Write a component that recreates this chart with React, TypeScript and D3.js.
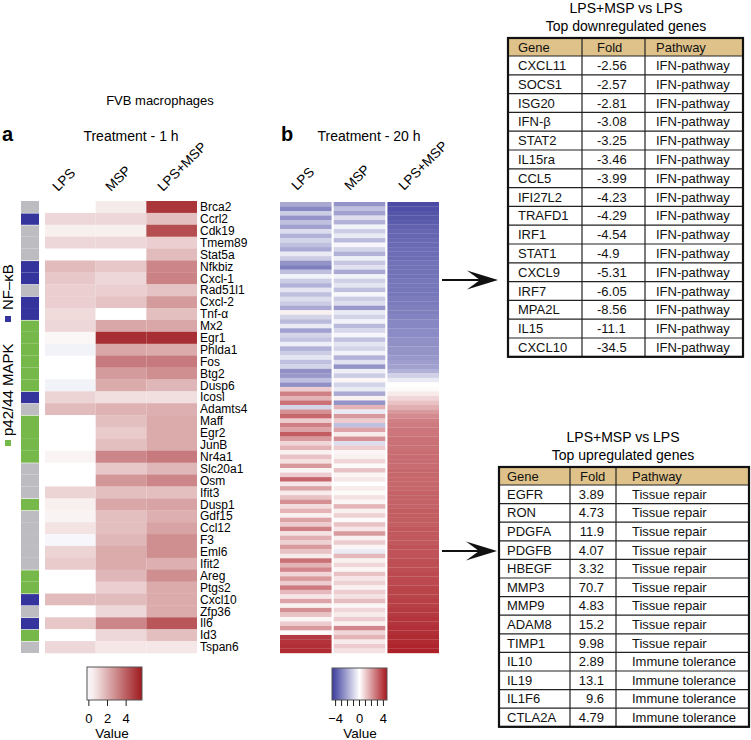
import React from 'react';
import * as d3 from 'd3';

// ---- panel a : treatment 1 h ----
const genesA = ['Brca2', 'Ccrl2', 'Cdk19', 'Tmem89', 'Stat5a', 'Nfkbiz', 'Cxcl-1', 'Rad51l1', 'Cxcl-2', 'Tnf-α',
  'Mx2', 'Egr1', 'Phlda1', 'Fos', 'Btg2', 'Dusp6', 'Icosl', 'Adamts4', 'Maff', 'Egr2', 'JunB', 'Nr4a1',
  'Slc20a1', 'Osm', 'Ifit3', 'Dusp1', 'Gdf15', 'Ccl12', 'F3', 'Eml6', 'Ifit2', 'Areg', 'Ptgs2', 'Cxcl10',
  'Zfp36', 'Il6', 'Id3', 'Tspan6'];
// o = other, n = NF-kB, m = p42/44 MAPK
const pathwayA = ['o', 'n', 'o', 'o', 'o', 'n', 'n', 'o', 'n', 'n', 'm', 'm', 'm', 'm', 'm', 'm', 'n', 'o', 'm', 'm',
  'm', 'm', 'o', 'o', 'o', 'm', 'o', 'o', 'o', 'o', 'o', 'm', 'm', 'n', 'o', 'n', 'm', 'o'];
const lpsA = [0, 1.0, 0.4, 1.0, 0, 1.7, 1.4, 1.2, 1.2, 0.9, 1.0, 0.2, -0.3, 0, 0, -0.3, 1.1, 1.7, 0, 0, 0, 0.3,
  0, 0, 1.1, 0.4, 0.3, 0.7, -0.2, 1.1, 1.3, 0, 0, 1.7, 0, 1.4, 0, 1.0];
const mspA = [0.5, 1.0, 0.4, 1.0, 0, 1.4, 1.0, 1.2, 1.5, 0, 2.2, 5.2, 2.2, 3.3, 2.5, 2.1, 0.8, 1.9, 1.6, 1.3, 1.6, 3.0,
  1.4, 2.6, 1.6, 2.2, 1.6, 1.6, 1.8, 2.1, 2.1, 1.8, 1.2, 1.7, 1.0, 3.0, 1.0, 0.6];
const comboA = [5.0, 1.6, 4.4, 1.2, 1.7, 3.0, 3.1, 1.5, 2.5, 1.6, 2.2, 5.2, 2.1, 3.3, 2.8, 1.8, 0.8, 2.0, 2.1, 2.1, 2.1, 3.3,
  1.8, 3.0, 1.6, 2.3, 2.0, 2.3, 2.8, 2.8, 2.0, 2.8, 2.1, 2.1, 2.1, 4.2, 1.6, 0.6];
const conditions = ['LPS', 'MSP', 'LPS+MSP'];

// ---- panel b : treatment 20 h (rows sorted by LPS+MSP) ----
const lpsB = [
  -2.0, -2.8, -1.2, -2.5, -1.5, -2.2, -0.8, -1.8, -1.0, -1.5,
  -2.0, -0.5, -1.2, -2.5, -3.0, -1.5, -0.3, -1.2, -1.8, -0.6,
  -1.5, -0.8, -1.2, -2.0, 0.3, -1.0, -1.6, -0.5, -2.2, -1.0,
  -1.4, -0.4, -1.8, -1.2, -0.6, -1.5, -1.0, -2.6, -2.4, -1.5,
  -2.6, 1.0, 2.5, 1.5, 2.8, -1.0, 2.2, 3.0, 1.0, 2.5,
  1.8, 3.2, 2.0, 0.8, 1.5, 0.3, 1.2, 0.6, 2.0, 0.2,
  1.0, 3.0, 0.5, 1.8, 0.4, 1.2, 2.2, 0.7, 1.5, 0.3,
  1.8, 1.0, 2.5, 0.6, 1.6, 0.9, 2.0, 1.2, 0.4, 2.8,
  1.5, 2.4, 0.8, 2.0, 1.0, 2.6, 1.4, 0.5, 1.8, 0.3,
  2.2, 1.2, 0.2, 1.0, 2.0, 0.1, 3.9, 4.0, 4.1, 4.2];
const mspB = [
  -2.5, -1.5, -2.2, -0.8, -1.8, -0.3, -1.2, -0.5, -1.6, -0.2,
  -1.0, -1.8, -0.4, -1.3, -0.7, -2.0, -0.3, -1.1, -0.6, -1.5,
  -0.2, -1.2, -0.8, -2.4, -0.5, -1.0, -0.3, -1.6, -0.9, -0.2,
  -1.4, -0.6, -1.0, -0.3, -1.8, -0.7, -2.5, -0.4, -1.2, 0.2,
  -1.0, -0.5, -2.0, 0.3, -2.5, 1.5, -0.5, 2.0, 1.0, -1.5,
  1.8, 0.4, 2.2, -0.8, 1.0, 0.2, 0.3, 0.8, 0.1, 1.2,
  0.2, 0.5, 0.0, 0.4, 0.1, 0.6, 0.2, 1.5, 0.3, 0.9,
  0.1, 1.2, 0.5, 2.0, 0.3, 1.0, 0.2, -0.5, 1.4, 0.3,
  0.8, 0.2, 1.2, 0.5, 0.9, 0.3, 1.0, 0.6, 1.3, 0.2,
  0.8, 0.4, 1.0, 0.3, 2.4, 0.8, 1.5, 0.4, 1.0, 0.6];
const comboB = [
  -4.2, -4.1, -4.0, -3.9, -3.8, -3.7, -3.6, -3.6, -3.5, -3.5,
  -3.4, -3.4, -3.4, -3.3, -3.3, -3.3, -3.3, -3.2, -3.2, -3.2,
  -3.2, -3.1, -3.1, -3.0, -3.0, -2.9, -2.8, -2.8, -2.7, -2.7,
  -2.6, -2.6, -2.5, -2.5, -2.4, -2.3, -2.2, -1.8, -1.1, -0.5,
  0, 0.1, 0.4, 0.8, 1.2, 1.6, 2.0, 2.3, 2.5, 2.6,
  2.7, 2.7, 2.8, 2.8, 2.8, 2.9, 2.9, 2.9, 2.9, 3.0,
  3.0, 3.0, 3.0, 3.0, 3.1, 3.1, 3.1, 3.1, 3.2, 3.2,
  3.2, 3.2, 3.3, 3.3, 3.3, 3.3, 3.4, 3.4, 3.4, 3.5,
  3.5, 3.5, 3.6, 3.6, 3.6, 3.7, 3.7, 3.7, 3.8, 3.8,
  3.9, 3.9, 4.0, 4.0, 4.1, 4.1, 4.2, 4.2, 4.3, 4.4];

// ---- tables ----
const downGenes = ['CXCL11', 'SOCS1', 'ISG20', 'IFN-β', 'STAT2', 'IL15ra', 'CCL5', 'IFI27L2', 'TRAFD1', 'IRF1',
  'STAT1', 'CXCL9', 'IRF7', 'MPA2L', 'IL15', 'CXCL10'];
const downFold = ['-2.56', '-2.57', '-2.81', '-3.08', '-3.25', '-3.46', '-3.99', '-4.23', '-4.29', '-4.54',
  '-4.9', '-5.31', '-6.05', '-8.56', '-11.1', '-34.5'];
const downPathway = downGenes.map(() => 'IFN-pathway');
const upGenes = ['EGFR', 'RON', 'PDGFA', 'PDGFB', 'HBEGF', 'MMP3', 'MMP9', 'ADAM8', 'TIMP1', 'IL10', 'IL19', 'IL1F6', 'CTLA2A'];
const upFold = ['3.89', '4.73', '11.9', '4.07', '3.32', '70.7', '4.83', '15.2', '9.98', '2.89', '13.1', '9.6', '4.79'];
const upPathway = ['Tissue repair', 'Tissue repair', 'Tissue repair', 'Tissue repair', 'Tissue repair', 'Tissue repair',
  'Tissue repair', 'Tissue repair', 'Tissue repair', 'Immune tolerance', 'Immune tolerance', 'Immune tolerance', 'Immune tolerance'];

const ticksA = [0, 2, 4];
const ticksB = [-4, -3, -2, -1, 0, 1, 2, 3, 4];
const tickLabelsB = [-4, 0, 4];

const FONT = 'Liberation Sans, Arial, Helvetica, sans-serif';
const BLUE = '#3a3a9c';
const RED_A = '#9e1a1e';
const RED_B = '#a8161e';
const sideColor = { o: '#bdbdc1', n: '#34349c', m: '#77b84a' };

const colorA = d3.scaleLinear<string>().domain([-4.6, 0, 5.7]).range([BLUE, '#ffffff', RED_A]).clamp(true);
const colorB = d3.scaleLinear<string>().domain([-4.6, 0, 4.6]).range([BLUE, '#ffffff', RED_B]).clamp(true);

function Table({ x0, x1, top, headH, rowH, cols, genes, fold, path, foldAnchor, foldX, geneX, pathX }) {
  const rows = genes.length;
  const y = (i) => top + headH + i * rowH;
  const bottom = y(rows);
  return (
    <g fontFamily={FONT} fontSize={13} fill="#111">
      <rect x={x0} y={top} width={x1 - x0} height={headH} fill="#dfc28a" />
      {d3.range(rows + 1).map((i) => (
        <line key={'h' + i} x1={x0} x2={x1} y1={y(i)} y2={y(i)} stroke="#222" strokeWidth={1.2} />
      ))}
      {cols.map((c) => (
        <line key={'v' + c} x1={c} x2={c} y1={top} y2={bottom} stroke="#222" strokeWidth={1.2} />
      ))}
      <rect x={x0} y={top} width={x1 - x0} height={bottom - top} fill="none" stroke="#111" strokeWidth={2.2} />
      <text x={geneX} y={top + headH / 2 + 4.5}>Gene</text>
      <text x={foldX.head} y={top + headH / 2 + 4.5}>Fold</text>
      <text x={pathX} y={top + headH / 2 + 4.5}>Pathway</text>
      {genes.map((g, i) => (
        <g key={g}>
          <text x={geneX} y={y(i) + rowH / 2 + 4.5}>{g}</text>
          <text x={foldX.val} y={y(i) + rowH / 2 + 4.5} textAnchor={foldAnchor}>{fold[i]}</text>
          <text x={pathX} y={y(i) + rowH / 2 + 4.5}>{path[i]}</text>
        </g>
      ))}
    </g>
  );
}

function Arrow({ x0, x1, y }) {
  return (
    <g>
      <line x1={x0} x2={x1 - 16} y1={y} y2={y} stroke="#111" strokeWidth={2} />
      <path d={`M${x1},${y} L${x1 - 31},${y - 9.5} L${x1 - 18},${y} L${x1 - 31},${y + 9.5} Z`} fill="#111" />
    </g>
  );
}

export default function App() {
  // panel a geometry
  const topA = 201, botA = 653;
  const yA = d3.scaleBand<number>().domain(d3.range(genesA.length)).range([topA, botA]);
  const xA = d3.scaleBand<string>().domain(conditions).range([45, 197]);
  const rowH = yA.bandwidth();
  const dataA = [lpsA, mspA, comboA];

  // panel b geometry
  const topB = 202, botB = 653;
  const yB = d3.scaleBand<number>().domain(d3.range(comboB.length)).range([topB, botB]);
  const xB = d3.scaleBand<string>().domain(conditions).range([280, 439]).paddingInner(0.04);
  const dataB = [lpsB, mspB, comboB];

  // legends
  const legA = d3.scaleLinear().domain([-0.2, 5.7]).range([87, 142]);
  const legB = d3.scaleLinear().domain([-4.6, 4.6]).range([332, 387]);
  const gradStops = (scale, dom) => d3.range(11).map((k) => {
    const v = dom[0] + (dom[1] - dom[0]) * k / 10;
    return <stop key={k} offset={`${k * 10}%`} stopColor={scale(v)} />;
  });

  const headAnchorA = [58, 111, 163];
  const headAnchorB = [297, 350, 404];

  return (
    <svg width={751} height={740} style={{ position: 'absolute', left: 0, top: 0, background: '#fff' }}
      fontFamily={FONT}>
      <defs>
        <linearGradient id="gA" x1="0" x2="1" y1="0" y2="0">{gradStops(colorA, [-0.2, 5.7])}</linearGradient>
        <linearGradient id="gB" x1="0" x2="1" y1="0" y2="0">{gradStops(colorB, [-4.6, 4.6])}</linearGradient>
      </defs>

      {/* titles */}
      <text x={160} y={105} textAnchor="middle" fontSize={13}>FVB macrophages</text>
      <text x={2} y={141} fontSize={20} fontWeight="bold">a</text>
      <text x={131} y={141} textAnchor="middle" fontSize={14}>Treatment - 1 h</text>
      <text x={281} y={141} fontSize={20} fontWeight="bold">b</text>
      <text x={369} y={141} textAnchor="middle" fontSize={14}>Treatment - 20 h</text>

      {/* column headers */}
      {conditions.map((c, j) => (
        <text key={'ha' + c} transform={`translate(${headAnchorA[j]},${192}) rotate(-45)`} fontSize={13.5}>{c}</text>
      ))}
      {conditions.map((c, j) => (
        <text key={'hb' + c} transform={`translate(${headAnchorB[j]},${191}) rotate(-45)`} fontSize={13.5}>{c}</text>
      ))}

      {/* pathway side bar */}
      {pathwayA.map((p, i) => {
        const prevDiff = i > 0 && pathwayA[i - 1] !== p;
        const y0 = yA(i) + (prevDiff ? 0.6 : 0);
        return <rect key={'s' + i} x={21} y={y0} width={18} height={yA(i) + rowH - y0} fill={sideColor[p]} />;
      })}
      <rect x={5} y={316} width={6} height={6} fill={sideColor.n} />
      <text transform="translate(13,310) rotate(-90)" fontSize={15}>NF–κB</text>
      <rect x={5} y={440} width={6} height={6} fill={sideColor.m} />
      <text transform="translate(13,436) rotate(-90)" fontSize={15}>p42/44 MAPK</text>

      {/* heatmap a */}
      {dataA.map((col, j) => col.map((v, i) => (
        <rect key={`a${j}-${i}`} x={xA(conditions[j])} y={yA(i)} width={xA.bandwidth()} height={rowH + 0.3}
          fill={colorA(v)} />
      )))}
      {genesA.map((g, i) => (
        <text key={'g' + g} x={200} y={yA(i) + rowH / 2 + 4.2} fontSize={12}>{g}</text>
      ))}

      {/* heatmap b */}
      {dataB.map((col, j) => col.map((v, i) => (
        <rect key={`b${j}-${i}`} x={xB(conditions[j])} y={yB(i)} width={xB.bandwidth()} height={yB.bandwidth() + 0.2}
          fill={colorB(v)} />
      )))}

      {/* legend a */}
      <rect x={87} y={667} width={55} height={33} fill="url(#gA)" stroke="#555" strokeWidth={1} />
      {ticksA.map((t) => (
        <g key={'la' + t}>
          <line x1={legA(t)} x2={legA(t)} y1={700} y2={706} stroke="#222" />
          <text x={legA(t)} y={723} textAnchor="middle" fontSize={13}>{t}</text>
        </g>
      ))}
      <text x={112} y={738} textAnchor="middle" fontSize={13.5}>Value</text>

      {/* legend b */}
      <rect x={332} y={668} width={55} height={32} fill="url(#gB)" stroke="#555" strokeWidth={1} />
      {ticksB.map((t) => (
        <line key={'lb' + t} x1={legB(t)} x2={legB(t)} y1={700} y2={706} stroke="#222" />
      ))}
      {tickLabelsB.map((t) => (
        <text key={'lbt' + t} x={legB(t)} y={723} textAnchor="middle" fontSize={13}>{t < 0 ? '−' + Math.abs(t) : t}</text>
      ))}
      <text x={360} y={738} textAnchor="middle" fontSize={13.5}>Value</text>

      {/* arrows */}
      <Arrow x0={442} x1={498} y={280} />
      <Arrow x0={442} x1={497} y={551} />

      {/* top table */}
      <text x={626} y={13} textAnchor="middle" fontSize={14}>LPS+MSP vs LPS</text>
      <text x={626} y={31} textAnchor="middle" fontSize={14}>Top downregulated genes</text>
      <Table x0={508} x1={743} top={38} headH={18} rowH={18.8} cols={[582, 645]}
        genes={downGenes} fold={downFold} path={downPathway}
        foldAnchor="start" foldX={{ head: 597, val: 597 }} geneX={518} pathX={656} />

      {/* bottom table */}
      <text x={623} y={442} textAnchor="middle" fontSize={14}>LPS+MSP vs LPS</text>
      <text x={623} y={460} textAnchor="middle" fontSize={14}>Top upregulated genes</text>
      <Table x0={499} x1={749} top={467} headH={18} rowH={18.6} cols={[570, 616]}
        genes={upGenes} fold={upFold} path={upPathway}
        foldAnchor="end" foldX={{ head: 580, val: 604 }} geneX={507} pathX={632} />
    </svg>
  );
}
